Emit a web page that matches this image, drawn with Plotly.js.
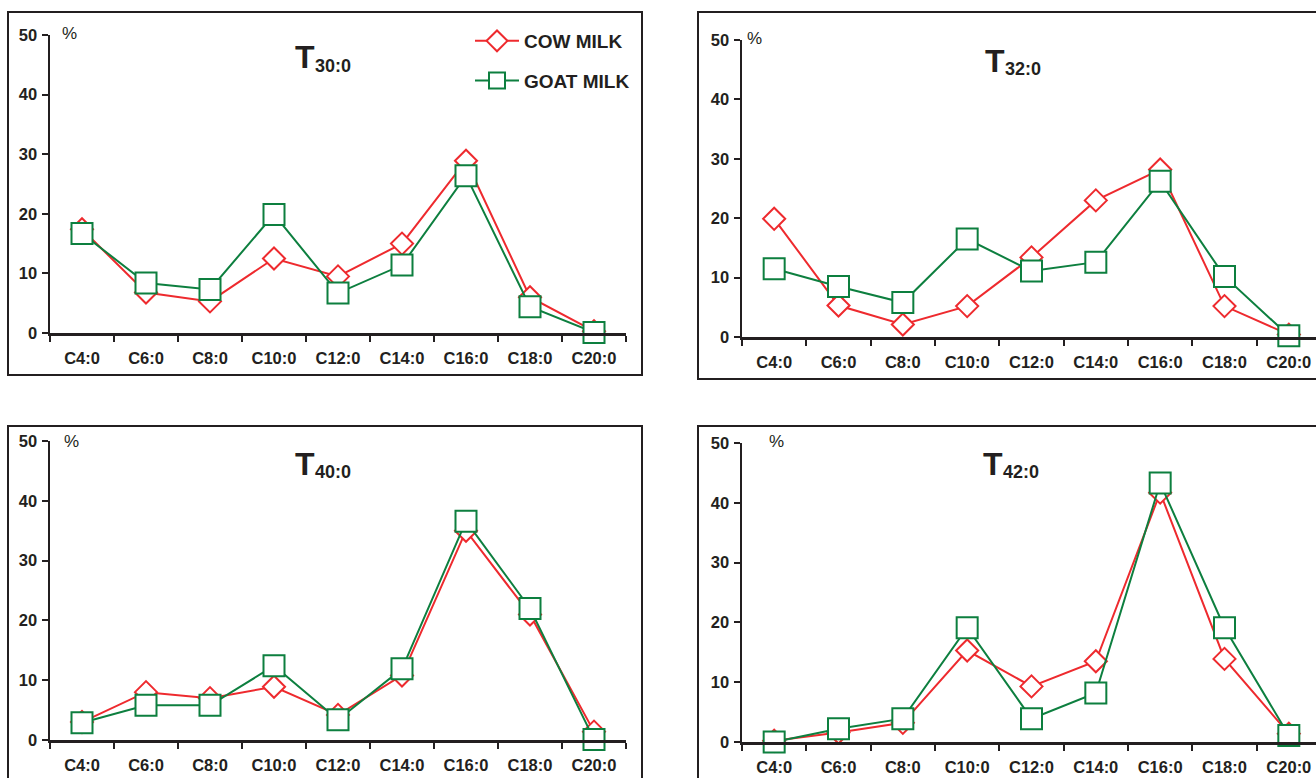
<!DOCTYPE html>
<html>
<head>
<meta charset="utf-8">
<script src="https://cdn.plot.ly/plotly-3.0.1.min.js"></script>
<style>
html, body { margin: 0; padding: 0; background: #ffffff; overflow: hidden; }
#chart { width: 1345px; height: 790px; }
</style>
</head>
<body>
<div id="chart"></div>
<script>
// ---- data ----
const categories = ['C4:0', 'C6:0', 'C8:0', 'C10:0', 'C12:0', 'C14:0', 'C16:0', 'C18:0', 'C20:0'];
const seriesNames = ['COW MILK', 'GOAT MILK'];
const panelTitles = ['30:0', '32:0', '40:0', '42:0'];

const cow30  = [17.4, 6.8, 5.3, 12.5, 9.5, 15.0, 28.9, 6.0, 0.3];
const goat30 = [16.7, 8.4, 7.3, 19.9, 6.7, 11.4, 26.4, 4.4, 0.1];
const cow32  = [19.9, 5.3, 2.1, 5.2, 13.4, 23.0, 28.2, 5.2, 0.4];
const goat32 = [11.5, 8.5, 5.8, 16.5, 11.1, 12.6, 26.2, 10.2, 0.2];
const cow40  = [3.0, 8.0, 7.0, 8.9, 4.2, 10.8, 35.0, 21.0, 1.4];
const goat40 = [2.9, 5.8, 5.8, 12.4, 3.4, 11.9, 36.6, 22.0, 0.1];
const cow42  = [0.2, 1.6, 3.2, 15.3, 9.3, 13.5, 41.7, 13.9, 1.4];
const goat42 = [0.0, 2.2, 3.9, 19.1, 3.9, 8.2, 43.3, 19.1, 1.1];

const cowSets = [cow30, cow32, cow40, cow42];
const goatSets = [goat30, goat32, goat40, goat42];

// ---- styling / geometry ----
const W = 1345, H = 790;
const RED = '#ee2a2e', GREEN = '#0d7f3f', INK = '#231f20';
const FONT = 'Liberation Sans, Arial, sans-serif';
const px = x => x / W;
const py = y => 1 - y / H;

// plot areas in pixels
const panels = [
  {x: [50, 626], y: [35, 333], box: [8, 642, 12, 375], pct: [60, 33], tx: 293, ty: [57, 66]},
  {x: [742, 1321], y: [40, 337], box: [698, 1340, 12, 379], pct: [745, 38], tx: 983, ty: [61, 69]},
  {x: [50, 626], y: [441, 740], box: [8, 642, 426, 786], pct: [62, 441], tx: 293, ty: [464, 472]},
  {x: [742, 1321], y: [443, 742], box: [698, 1340, 426, 786], pct: [767, 441], tx: 981, ty: [464, 472]}
];

const traces = [];
const layout = {
  width: W, height: H,
  margin: {l: 0, r: 0, t: 0, b: 0},
  paper_bgcolor: '#ffffff', plot_bgcolor: 'rgba(0,0,0,0)',
  showlegend: true,
  legend: {
    x: px(470), y: py(22), xanchor: 'left', yanchor: 'top',
    bgcolor: 'rgba(0,0,0,0)', borderwidth: 0,
    font: {family: FONT, size: 19, color: INK, weight: 'bold'},
    tracegroupgap: 12, itemwidth: 44
  },
  shapes: [], annotations: []
};

panels.forEach((p, i) => {
  const n = i + 1;
  const xa = 'x' + (n === 1 ? '' : n), ya = 'y' + (n === 1 ? '' : n);
  traces.push({
    type: 'scatter', mode: 'lines+markers', x: categories, y: cowSets[i],
    xaxis: xa, yaxis: ya, name: seriesNames[0], legendgroup: 'cow', showlegend: i === 0,
    cliponaxis: false,
    line: {color: RED, width: 2},
    marker: {symbol: 'diamond', size: 17, color: '#ffffff', line: {color: RED, width: 2}}
  });
  traces.push({
    type: 'scatter', mode: 'lines+markers', x: categories, y: goatSets[i],
    xaxis: xa, yaxis: ya, name: seriesNames[1], legendgroup: 'goat', showlegend: i === 0,
    cliponaxis: false,
    line: {color: GREEN, width: 2},
    marker: {symbol: 'square', size: 21, color: '#ffffff', line: {color: GREEN, width: 2}}
  });

  const xk = 'xaxis' + (n === 1 ? '' : n), yk = 'yaxis' + (n === 1 ? '' : n);
  layout[xk] = {
    domain: [px(p.x[0]), px(p.x[1])], anchor: ya,
    type: 'category', categoryarray: categories, range: [-0.5, 8.5],
    tickson: 'boundaries', ticks: 'outside', ticklen: 6, tickwidth: 2, tickcolor: INK,
    showline: true, linewidth: 2.5, linecolor: INK, showgrid: false, zeroline: false,
    ticklabelstandoff: 9,
    tickfont: {family: FONT, size: 16.5, color: INK, weight: 'bold'},
    fixedrange: true
  };
  layout[yk] = {
    domain: [py(p.y[1]), py(p.y[0])], anchor: xa,
    range: [0, 50], dtick: 10, tick0: 0,
    ticks: 'outside', ticklen: 6, tickwidth: 2, tickcolor: INK,
    showline: true, linewidth: 2.5, linecolor: INK, showgrid: false, zeroline: false,
    ticklabelstandoff: 1,
    tickfont: {family: FONT, size: 16.5, color: INK, weight: 'bold'},
    fixedrange: true
  };
  layout.shapes.push({
    type: 'rect', xref: 'paper', yref: 'paper',
    x0: px(p.box[0]), x1: px(p.box[1]), y0: py(p.box[3]), y1: py(p.box[2]),
    line: {color: INK, width: 2}, fillcolor: 'rgba(0,0,0,0)'
  });
  layout.annotations.push({
    xref: 'paper', yref: 'paper', x: px(p.pct[0]), y: py(p.pct[1]),
    xanchor: 'left', yanchor: 'middle', showarrow: false, text: '%',
    font: {family: FONT, size: 17, color: INK}
  });
  layout.annotations.push({
    xref: 'paper', yref: 'paper', x: px(p.tx), y: py(p.ty[0]),
    xanchor: 'left', yanchor: 'middle', showarrow: false, text: 'T',
    font: {family: FONT, size: 32, color: INK, weight: 'bold'}
  });
  layout.annotations.push({
    xref: 'paper', yref: 'paper', x: px(p.tx + 20), y: py(p.ty[1]),
    xanchor: 'left', yanchor: 'middle', showarrow: false, text: panelTitles[i],
    font: {family: FONT, size: 18, color: INK, weight: 'bold'}
  });
});

Plotly.newPlot('chart', traces, layout, {displayModeBar: false, staticPlot: true});
</script>
</body>
</html>
